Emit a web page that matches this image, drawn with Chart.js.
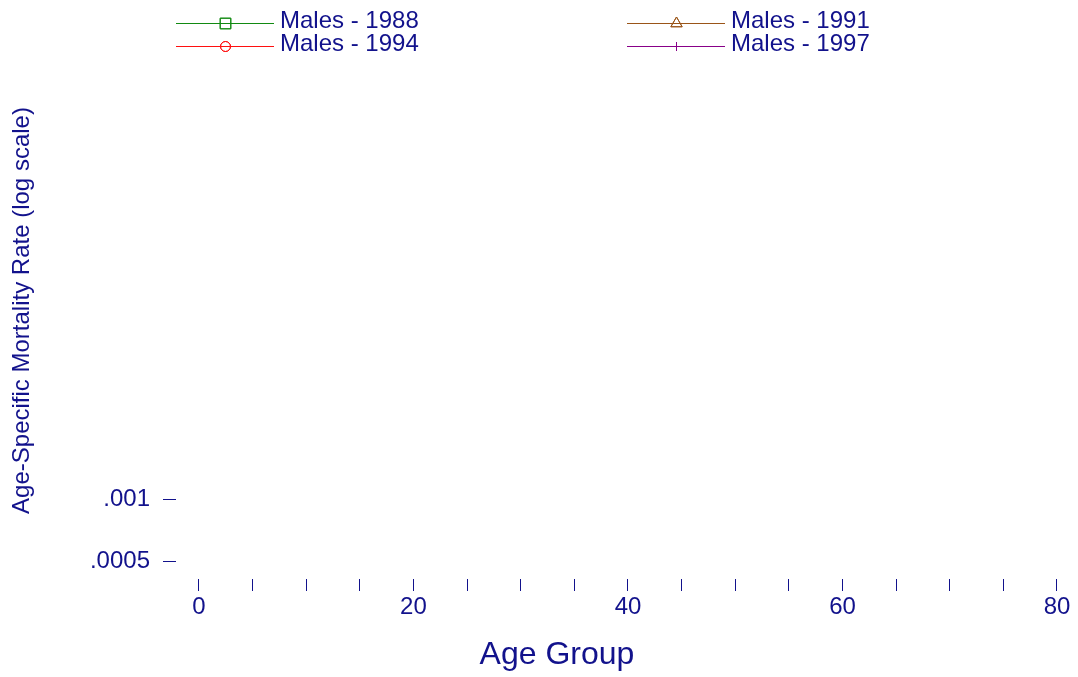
<!DOCTYPE html>
<html>
<head>
<meta charset="utf-8">
<script src="https://cdn.jsdelivr.net/npm/chart.js@4/dist/chart.umd.min.js"></script>
<style>
  html, body { margin: 0; padding: 0; background: #ffffff; }
  #wrap { width: 1078px; height: 677px; position: relative; }
</style>
</head>
<body>
<div id="wrap"><canvas id="c" width="1078" height="677"></canvas></div>
<script>
// ---- data (no values fall inside the plotted range in the reference) ----
const ageGroups = [0, 5, 10, 15, 20, 25, 30, 35, 40, 45, 50, 55, 60, 65, 70, 75, 80];
const males1988 = [];
const males1991 = [];
const males1994 = [];
const males1997 = [];
const seriesLabels = ['Males - 1988', 'Males - 1991', 'Males - 1994', 'Males - 1997'];
const seriesColors = ['#128a12', '#9a5518', '#ff1010', '#880088'];
const seriesMarkers = ['rect', 'triangle', 'circle', 'line'];
const yTickValues = [0.0005, 0.001];
const yTickLabels = ['.0005', '.001'];
const xTickValues = [0, 5, 10, 15, 20, 25, 30, 35, 40, 45, 50, 55, 60, 65, 70, 75, 80];
const xLabelEvery = 20;
const xTitle = 'Age Group';
const yTitle = 'Age-Specific Mortality Rate (log scale)';

const NAVY = '#12128c';
const FONT = 'Liberation Sans, Arial, Helvetica, sans-serif';

function toPoints(vals) {
  return vals.map((v, i) => ({ x: ageGroups[i], y: v }));
}
const allSeries = [males1988, males1991, males1994, males1997];
const datasets = allSeries.map((vals, i) => ({
  label: seriesLabels[i],
  data: toPoints(vals),
  borderColor: seriesColors[i],
  backgroundColor: 'rgba(0,0,0,0)',
  borderWidth: 1,
  pointStyle: seriesMarkers[i],
  pointRadius: 5,
  pointBorderColor: seriesColors[i],
  pointBackgroundColor: 'rgba(0,0,0,0)',
  showLine: true
}));

// custom legend: line + marker + label, two columns
const legendPlugin = {
  id: 'stataLegend',
  afterDraw(chart) {
    const ctx = chart.ctx;
    ctx.save();
    chart.data.datasets.forEach((ds, i) => {
      const col = i % 2, row = Math.floor(i / 2);
      const x0 = 176 + col * 451;
      const y = 23 + row * 23;
      ctx.strokeStyle = ds.borderColor;
      ctx.lineWidth = 1;
      ctx.beginPath();
      ctx.moveTo(x0, y + 0.5);
      ctx.lineTo(x0 + 98, y + 0.5);
      ctx.stroke();
      ctx.strokeStyle = ds.borderColor;
      ctx.fillStyle = 'rgba(0,0,0,0)';
      const style = ds.pointStyle;
      const mx = x0 + 49.5;
      if (style === 'line') {
        ctx.beginPath();
        ctx.moveTo(mx, y - 4);
        ctx.lineTo(mx, y + 5);
        ctx.stroke();
      } else {
        Chart.helpers.drawPoint(ctx, {
          pointStyle: style,
          radius: style === 'rect' ? 7.5 : (style === 'triangle' ? 6.5 : 5),
          rotation: 0,
          borderWidth: 1
        }, mx, y + 0.5);
        ctx.stroke();
      }
      ctx.fillStyle = NAVY;
      ctx.font = '24px ' + FONT;
      ctx.textAlign = 'left';
      ctx.textBaseline = 'alphabetic';
      ctx.fillText(ds.label, x0 + 104, y + 5);
    });
    // x axis title
    ctx.fillStyle = NAVY;
    ctx.font = '32px ' + FONT;
    ctx.textAlign = 'center';
    ctx.textBaseline = 'alphabetic';
    ctx.fillText(xTitle, 557, 664);
    ctx.restore();
  }
};

new Chart(document.getElementById('c'), {
  type: 'line',
  data: { datasets },
  plugins: [legendPlugin],
  options: {
    responsive: false,
    animation: false,
    devicePixelRatio: 1,
    layout: { padding: { top: 42, right: 18, left: 0, bottom: 0 } },
    plugins: { legend: { display: false }, tooltip: { enabled: false } },
    scales: {
      x: {
        type: 'linear',
        min: -2.14,
        max: 80.28,
        afterFit(scale) { scale.height = 98; },
        afterBuildTicks(scale) { scale.ticks = xTickValues.map(v => ({ value: v })); },
        border: { display: false },
        grid: { display: true, drawOnChartArea: false, drawTicks: true, tickLength: 12, color: NAVY, lineWidth: 1 },
        ticks: {
          color: NAVY,
          font: { family: FONT, size: 24 },
          padding: 2,
          maxRotation: 0,
          autoSkip: false,
          callback: (v) => (v % xLabelEvery === 0 ? String(v) : '')
        },
        title: { display: false }
      },
      y: {
        type: 'logarithmic',
        min: 0.000409,
        max: 0.1654,
        afterFit(scale) { scale.width = 176; },
        afterBuildTicks(scale) { scale.ticks = yTickValues.map(v => ({ value: v })); },
        border: { display: false },
        grid: { display: true, drawOnChartArea: false, drawTicks: true, tickLength: 13, color: NAVY, lineWidth: 1 },
        ticks: {
          color: NAVY,
          font: { family: FONT, size: 24 },
          padding: 13,
          autoSkip: false,
          callback: (v) => {
            const idx = yTickValues.findIndex(t => Math.abs(t - v) < 1e-12);
            return idx >= 0 ? yTickLabels[idx] : '';
          }
        },
        title: {
          display: true,
          text: yTitle,
          color: NAVY,
          font: { family: FONT, size: 24 },
          padding: { top: 8, bottom: 0 }
        }
      }
    }
  }
});
</script>
</body>
</html>
